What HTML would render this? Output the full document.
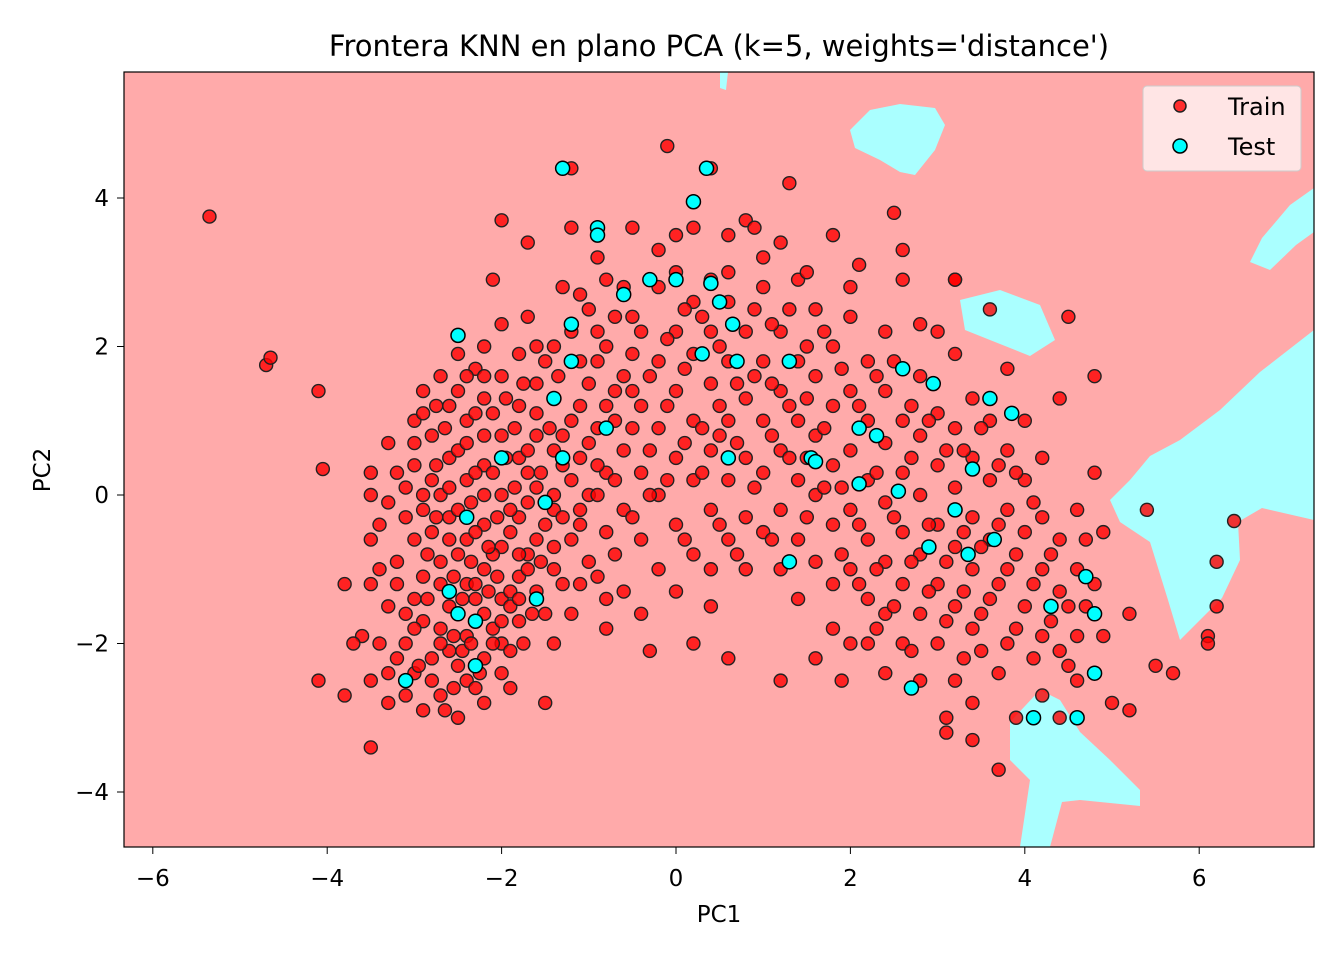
<!DOCTYPE html>
<html><head><meta charset="utf-8"><style>
html,body{margin:0;padding:0;background:#fff;}
svg text{font-family:"DejaVu Sans","Liberation Sans",sans-serif;}
</style></head><body>
<svg id="chart" width="1344" height="960" viewBox="0 0 1344 960">
<defs><clipPath id="clip"><rect x="124" y="72" width="1190" height="775"/></clipPath></defs>
<text x="719" y="56" font-size="29" text-anchor="middle">Frontera KNN en plano PCA (k=5, weights='distance')</text>
<g clip-path="url(#clip)">
<rect x="124" y="72" width="1190" height="775" fill="#ffaaaa"/>
<g fill="#aaffff">
<polygon points="850,130 870,110 900,104 935,108 945,125 935,150 915,175 900,172 880,160 855,148"/>
<polygon points="1314,188 1290,205 1262,238 1250,262 1270,270 1296,245 1314,232"/>
<polygon points="1314,330 1260,372 1220,410 1180,440 1150,456 1130,480 1110,500 1120,522 1150,542 1168,600 1180,640 1200,620 1222,598 1240,560 1238,522 1262,508 1314,520"/>
<polygon points="1010,722 1040,690 1060,700 1080,732 1110,760 1140,790 1140,806 1080,800 1062,802 1050,847 1020,847 1030,780 1010,760"/>
<polygon points="960,300 1000,290 1040,305 1055,340 1030,356 990,340 965,330"/>
<polygon points="720,72 728,72 726,90 720,88"/>
</g>
<g id="marks"></g>
</g>
<rect x="124" y="72" width="1190" height="775" fill="none" stroke="#000" stroke-width="1.2"/>
<g id="xticks"></g>
<g id="yticks"></g>
<text x="719" y="922" font-size="23" text-anchor="middle">PC1</text>
<text x="50" y="470" font-size="23" text-anchor="middle" transform="rotate(-90 50 470)">PC2</text>
<g>
<rect x="1143" y="86" width="158" height="85" rx="4" fill="#ffebeb" fill-opacity="0.9" stroke="#cccccc"/>
<circle cx="1180" cy="106" r="6" fill="#ff0000" fill-opacity="0.8" stroke="#222" stroke-width="1.5"/>
<text x="1228" y="115" font-size="24">Train</text>
<circle cx="1180" cy="146" r="7" fill="#00ffff" stroke="#000" stroke-width="1.5"/>
<text x="1228" y="155" font-size="24">Test</text>
</g>
</svg>
<script>
const xTicks=[-6,-4,-2,0,2,4,6];
const yTicks=[-4,-2,0,2,4];
const trainX=[-3.5,-3.5,-3.5,-3.5,-3.6,-3.5,-3.5,-3.3,-3.2,-3.3,-3.2,-3.1,-3.0,-3.0,-2.9,-2.8,-2.8,-2.8,-2.9,-2.9,-3.0,-2.9,-2.7,-2.6,-2.6,-2.7,-2.6,-2.6,-2.6,-2.5,-2.4,-2.4,-2.4,-2.4,-2.4,-2.4,-2.5,-2.2,-2.2,-2.2,-2.2,-2.2,-2.2,-2.2,-2.2,-2.0,-2.0,-2.0,-2.0,-2.0,-2.0,-2.0,-1.9,-1.8,-1.8,-1.8,-1.8,-1.8,-1.8,-1.7,-1.6,-1.6,-1.6,-1.6,-1.6,-1.5,-1.4,-1.4,-1.4,-1.4,-1.4,-1.4,-1.3,-1.2,-1.2,-1.2,-1.2,-1.2,-1.2,-1.2,-1.0,-1.0,-1.0,-1.0,-1.0,-0.9,-0.8,-0.8,-0.8,-0.8,-0.8,-0.8,-0.6,-0.6,-0.6,-0.6,-0.6,-0.5,-0.4,-0.4,-0.4,-0.4,-0.4,-0.3,-0.2,-0.2,-0.2,-0.2,-0.2,-0.1,0.0,0.0,0.0,0.0,0.0,0.0,0.2,0.2,0.2,0.2,0.2,0.2,0.2,0.4,0.4,0.4,0.4,0.4,0.4,0.4,0.4,0.6,0.6,0.6,0.6,0.6,0.6,0.6,0.8,0.8,0.8,0.8,0.8,0.8,1.0,1.0,1.0,1.0,1.0,1.2,1.2,1.2,1.2,1.2,1.2,1.2,1.3,1.4,1.4,1.4,1.4,1.4,1.4,1.6,1.6,1.6,1.6,1.6,1.6,1.8,1.8,1.8,1.8,1.8,1.8,1.8,1.9,2.0,2.0,2.0,2.0,2.0,2.0,2.2,2.2,2.2,2.2,2.2,2.2,2.4,2.4,2.4,2.4,2.4,2.4,2.4,2.6,2.6,2.6,2.6,2.6,2.6,2.6,2.8,2.8,2.8,2.8,2.8,2.8,2.8,3.0,3.0,3.0,3.0,3.0,3.0,3.1,3.1,3.2,3.2,3.2,3.2,3.2,3.2,3.2,3.4,3.4,3.4,3.4,3.4,3.4,3.4,3.5,3.6,3.6,3.6,3.6,3.6,3.7,3.8,3.8,3.8,3.8,3.8,3.9,4.0,4.0,4.0,4.0,4.2,4.2,4.2,4.2,4.2,4.4,4.4,4.4,4.4,4.4,4.5,4.6,4.6,4.6,4.6,4.8,4.8,4.9,4.9,5.0,5.2,5.2,5.4,5.5,5.7,6.1,6.1,6.2,6.2,6.4,-5.35,-4.7,-4.65,-4.1,-4.05,-4.1,-3.8,-3.8,-3.7,2.1,3.2,2.5,0.9,-0.2,-1.7,-2.1,-2.0,4.8,
-3.1,-2.9,-2.7,-2.5,-2.3,-2.1,-1.9,-1.7,-1.5,-1.3,-2.7,-2.5,-2.3,-3.0,-3.1,-2.8,-2.1,-1.9,-1.7,-1.1,-0.9,-0.7,-0.5,-0.3,-0.1,0.1,0.3,0.5,0.7,0.9,1.1,1.3,1.5,1.7,1.9,2.1,2.3,2.5,2.7,2.9,3.1,3.3,3.5,3.7,3.9,4.1,-0.5,-0.9,-1.1,0.1,0.5,1.1,1.5,2.3,2.7,3.3,3.7,-2.7,-2.3,-3.3,-3.4];
const trainY=[0.3,0,-0.6,-1.2,-1.9,-2.5,-3.4,-2.8,-2.2,-1.5,-0.9,-0.3,0.4,1.0,1.4,0.8,0.2,-0.5,-1.1,-1.7,-2.4,-2.9,-2.7,-2.1,-1.5,-0.9,-0.3,0.5,1.2,1.9,1.0,0.2,-0.6,-1.2,-1.9,-2.5,-3.0,-2.8,-2.2,-1.6,-1.0,-0.4,0.4,1.3,2.0,2.3,1.6,0.8,0.0,-0.7,-1.4,-2.0,-2.6,-1.7,-1.1,-0.3,0.5,1.2,1.9,2.4,1.5,0.8,0.1,-0.6,-1.3,-2.8,-2.0,-1.0,-0.2,0.6,1.3,2.0,2.8,3.6,4.4,2.2,1.0,0.2,-0.6,-1.6,-0.9,0.0,0.7,1.5,2.5,3.2,2.0,1.2,0.3,-0.5,-1.4,-1.8,-1.3,-0.2,0.6,1.6,2.8,3.6,2.2,1.2,0.3,-0.6,-1.6,-2.1,-1.0,0.0,0.9,1.8,2.8,4.7,3.0,2.2,1.4,0.5,-0.4,-1.3,-2.0,-0.8,0.2,1.0,1.9,2.6,3.6,4.4,2.9,2.2,1.5,0.6,-0.2,-1.0,-1.5,-2.2,-0.6,0.2,1.0,1.8,2.6,3.5,3.7,2.2,1.3,0.5,-0.3,-1.0,-0.5,0.3,1.0,1.8,2.8,3.4,2.2,1.4,0.6,-0.2,-1.0,-2.5,4.2,2.9,1.8,1.0,0.2,-0.6,-1.4,-2.2,-0.9,0.0,0.8,1.6,2.5,3.5,2.0,1.2,0.4,-0.4,-1.2,-1.8,-2.5,-2.0,-1.0,-0.2,0.6,1.4,2.4,1.8,1.0,0.2,-0.6,-1.4,-2.0,-2.4,-1.6,-0.9,-0.1,0.7,1.4,2.2,3.3,2.9,1.0,0.3,-0.5,-1.2,-2.0,-2.5,-1.6,-0.8,0.0,0.8,1.6,2.3,2.2,1.1,0.4,-0.4,-1.2,-2.0,-3.0,-3.2,-2.5,-1.5,-0.7,0.1,0.9,1.9,2.9,1.3,0.5,-0.3,-1.0,-1.8,-2.8,-3.3,-2.1,-1.4,-0.6,0.2,1.0,2.5,-3.7,-2.0,-1.0,-0.2,0.6,1.7,-3.0,-1.5,-0.5,0.2,1.0,0.5,-0.3,-1.0,-1.9,-2.7,-3.0,-2.1,-1.3,-0.6,1.3,2.4,-0.2,-1.0,-1.9,-2.5,-1.2,1.6,-1.9,-0.5,-2.8,-1.6,-2.9,-0.2,-2.3,-2.4,-1.9,-2.0,-1.5,-0.9,-0.35,3.75,1.75,1.85,1.4,0.35,-2.5,-2.7,-1.2,-2.0,3.1,2.9,3.8,3.6,3.3,3.4,2.9,3.7,0.3,
0.1,-0.2,0.0,-0.8,-1.4,-0.8,-0.2,0.3,-0.4,0.4,-1.8,-2.3,-2.6,-1.4,-2.0,-2.2,-1.8,-1.3,-0.8,-0.4,0.4,1.0,1.4,0.6,1.2,1.7,0.9,1.2,0.7,1.6,0.8,1.2,0.5,0.9,0.1,-0.4,-1.0,-0.3,-0.9,-0.4,-0.9,-1.3,-0.7,-1.2,-0.8,-1.2,2.4,2.2,1.8,2.5,2.0,2.3,2.0,1.6,1.2,0.6,0.4,1.6,1.7,0.7,-0.4];
const trainX2=[-3.4,-3.4,-3.3,-3.3,-3.2,-3.2,-3.1,-3.1,-3.0,-3.0,-3.0,-2.95,-2.9,-2.9,-2.85,-2.85,-2.8,-2.75,-2.75,-2.75,-2.7,-2.7,-2.65,-2.65,-2.6,-2.6,-2.55,-2.55,-2.55,-2.5,-2.5,-2.5,-2.45,-2.45,-2.4,-2.4,-2.35,-2.35,-2.35,-2.3,-2.3,-2.3,-2.3,-2.25,-2.2,-2.2,-2.2,-2.15,-2.15,-2.1,-2.1,-2.1,-2.05,-2.05,-2.0,-2.0,-1.95,-1.95,-1.9,-1.9,-1.9,-1.85,-1.85,-1.8,-1.8,-1.75,-1.75,-1.7,-1.7,-1.7,-1.65,-1.6,-1.6,-1.55,-1.55,-1.5,-1.5,-1.45,-1.4,-1.4,-1.35,-1.3,-1.3,-1.3,-1.1,-1.1,-1.1,-1.1,-0.9,-0.9,-0.9,-0.9,-0.7,-0.7,-0.7,-0.7,-0.5,-0.5,-0.5,-0.3,-0.3,-0.1,-0.1,0.1,0.1,0.3,0.3,0.5,0.5,0.7,0.7,0.9,0.9,1.1,1.1,1.3,1.3,1.5,1.5,1.7,1.7,1.9,1.9,2.1,2.1,2.3,2.3,2.5,2.5,2.7,2.7,2.9,2.9,3.1,3.1,3.3,3.3,3.5,3.5,3.7,3.7,3.9,3.9,4.1,4.1,4.3,4.3,4.5,4.5,4.7,4.7,0.0,0.6,1.0,1.5,2.0,-0.8,-1.1];
const trainY2=[-1.0,-2.0,-0.1,-2.4,0.3,-1.2,-1.6,-2.7,0.7,-0.6,-1.8,-2.3,1.1,0.0,-0.8,-1.4,-2.5,1.2,0.4,-0.3,-1.2,-2.0,-2.9,0.9,0.1,-0.6,-1.1,-1.9,-2.6,1.4,0.6,-0.2,-1.4,-2.1,1.6,0.7,-0.1,-0.9,-2.0,1.1,0.3,-0.5,-1.2,-2.4,1.6,0.8,0.0,-0.7,-1.3,-2.0,1.1,0.3,-0.3,-1.1,-1.7,-2.4,1.3,0.5,-0.5,-1.5,-2.1,0.9,0.1,-0.8,-1.4,-2.0,1.5,0.6,-0.1,-1.0,-1.6,2.0,1.1,0.3,-0.9,-1.6,1.8,0.9,0.0,-0.7,1.6,0.8,-0.3,-1.2,1.2,0.5,-0.2,-1.2,1.8,0.9,0.0,-1.1,2.4,1.4,0.2,-0.8,1.9,0.9,-0.3,1.6,0.0,2.1,0.2,0.7,-0.6,2.4,0.3,0.8,-0.4,1.5,-0.8,2.5,0.1,1.5,-0.6,0.5,2.5,1.3,-0.3,2.2,0.1,1.7,-0.8,1.2,-1.2,0.3,-1.8,1.8,-1.5,0.5,-2.1,-1.3,1.0,0.6,-1.7,-0.5,-2.2,0.9,-1.6,-0.4,-2.4,0.3,-1.8,-0.1,-2.2,-0.8,-1.7,-1.5,-2.3,-0.6,-1.5,3.5,3.0,3.2,3.0,2.8,2.9,2.7];
const testX=[-3.1,-2.6,-2.5,-2.3,-2.4,-2.3,-2.0,-1.6,-1.5,-1.4,-1.3,-1.2,-1.2,-1.3,-0.9,-0.9,-0.6,-0.8,-0.3,0.2,0.35,0.4,0.5,0.3,0.65,0.7,0.6,1.3,1.55,1.3,2.1,2.1,2.3,2.55,2.6,2.9,2.95,3.2,3.35,3.4,3.6,3.85,3.65,4.3,4.1,4.6,4.7,4.8,4.8,2.7,1.6,-2.5,0.0];
const testY=[-2.5,-1.3,-1.6,-1.7,-0.3,-2.3,0.5,-1.4,-0.1,1.3,0.5,1.8,2.3,4.4,3.6,3.5,2.7,0.9,2.9,3.95,4.4,2.85,2.6,1.9,2.3,1.8,0.5,1.8,0.5,-0.9,0.15,0.9,0.8,0.05,1.7,-0.7,1.5,-0.2,-0.8,0.35,1.3,1.1,-0.6,-1.5,-3.0,-3.0,-1.1,-1.6,-2.4,-2.6,0.45,2.15,2.9];
const sx=v=>676+v*87.2, sy=v=>495-v*74.25;
const NS='http://www.w3.org/2000/svg';
const marks=document.getElementById('marks');
function addTrain(xs,ys){
  for(let i=0;i<xs.length;i++){
    const c=document.createElementNS(NS,'circle');
    c.setAttribute('cx',sx(xs[i]));c.setAttribute('cy',sy(ys[i]));c.setAttribute('r',6.5);
    c.setAttribute('fill','#ff0000');c.setAttribute('fill-opacity','0.8');c.setAttribute('stroke','#222');c.setAttribute('stroke-width','1.4');
    
    
    marks.appendChild(c);
  }
}
addTrain(trainX,trainY);
addTrain(trainX2,trainY2);
for(let i=0;i<testX.length;i++){
  const c=document.createElementNS(NS,'circle');
  c.setAttribute('cx',sx(testX[i]));c.setAttribute('cy',sy(testY[i]));c.setAttribute('r',7);
  c.setAttribute('fill','#00ffff');c.setAttribute('stroke','#000');c.setAttribute('stroke-width','1.5');
  
  
  marks.appendChild(c);
}
const xg=document.getElementById('xticks');
xTicks.forEach(t=>{
  const l=document.createElementNS(NS,'line');
  l.setAttribute('x1',sx(t));l.setAttribute('x2',sx(t));l.setAttribute('y1',847);l.setAttribute('y2',854);l.setAttribute('stroke','#000');
  
  
  xg.appendChild(l);
  const tx=document.createElementNS(NS,'text');
  tx.setAttribute('x',sx(t));tx.setAttribute('y',886);tx.setAttribute('font-size','23');tx.setAttribute('text-anchor','middle');
  tx.textContent=(t<0?'\u2212'+Math.abs(t):String(t));
  
  
  xg.appendChild(tx);
});
const yg=document.getElementById('yticks');
yTicks.forEach(t=>{
  const l=document.createElementNS(NS,'line');
  l.setAttribute('x1',117);l.setAttribute('x2',124);l.setAttribute('y1',sy(t));l.setAttribute('y2',sy(t));l.setAttribute('stroke','#000');
  
  
  yg.appendChild(l);
  const tx=document.createElementNS(NS,'text');
  tx.setAttribute('x',109);tx.setAttribute('y',sy(t)+8);tx.setAttribute('font-size','23');tx.setAttribute('text-anchor','end');
  tx.textContent=(t<0?'\u2212'+Math.abs(t):String(t));
  
  
  yg.appendChild(tx);
});
</script>
</body></html>
